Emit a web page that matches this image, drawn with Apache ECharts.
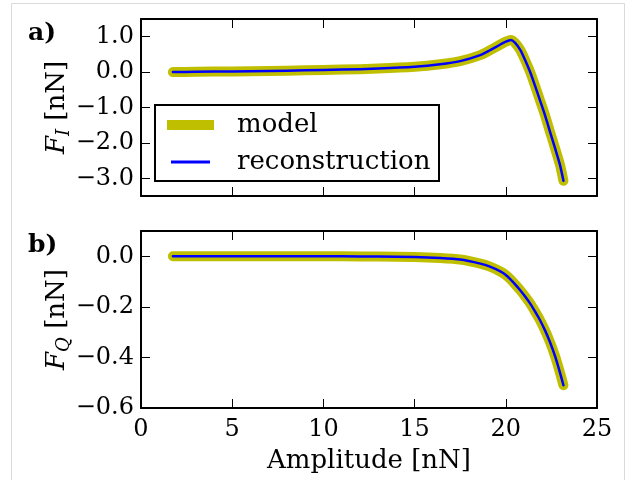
<!DOCTYPE html>
<html>
<head>
<meta charset="utf-8">
<script src="https://cdn.jsdelivr.net/npm/echarts@6/dist/echarts.min.js"></script>
<style>
  html, body { margin: 0; padding: 0; background: #fff; }
  #chart { width: 629px; height: 480px; }
</style>
</head>
<body>
<div id="chart"></div>
<script>
// amplitude [nN] and the two force components
const amplitude = [1.75, 3, 5, 7, 9, 11, 13, 15, 16.4, 17.5, 18.6, 19.1, 19.7, 20.0, 20.27, 20.5, 20.8, 21.05, 21.33, 21.6, 21.87, 22.15, 22.42, 22.7, 22.97, 23.16];
const forceI = [0.0, 0.01, 0.02, 0.03, 0.05, 0.07, 0.10, 0.15, 0.22, 0.31, 0.48, 0.61, 0.78, 0.86, 0.91, 0.83, 0.62, 0.35, 0.01, -0.38, -0.79, -1.22, -1.68, -2.15, -2.62, -3.07];
const forceQ = [0.0, 0.0, 0.0, 0.0, 0.0, 0.0, -0.001, -0.003, -0.007, -0.013, -0.029, -0.04, -0.06, -0.074, -0.092, -0.11, -0.135, -0.158, -0.186, -0.218, -0.252, -0.293, -0.339, -0.395, -0.46, -0.51];
const xTicks = [0, 5, 10, 15, 20, 25];
const yTicksI = [-3, -2, -1, 0, 1];
const yTicksQ = [-0.6, -0.4, -0.2, 0.0];

const FONT = 'DejaVu Serif';
const pairs = (ys) => amplitude.map((x, i) => [x, ys[i]]);
const fmt = (v) => (v < 0 ? '\u2212' : '') + Math.abs(v).toFixed(1);

const chart = echarts.init(document.getElementById('chart'), null, {renderer: 'canvas'});

function xAx(grid, pos, labels, name) {
    return {
        type: 'value', gridIndex: grid, position: pos, min: 0, max: 25,
        axisLine: {show: true, onZero: false, lineStyle: {color: '#000', width: 2}},
        axisTick: {show: true, inside: true, length: 9, customValues: xTicks, lineStyle: {color: '#000', width: 1}},
        axisLabel: {show: labels, customValues: xTicks, color: '#000', fontFamily: FONT, fontSize: 24, margin: 10},
        splitLine: {show: false},
        name: name || '', nameLocation: 'middle', nameGap: 40, nameMoveOverlap: false,
        nameTextStyle: {color: '#000', fontFamily: FONT, fontSize: 26}
    };
}
function yAx(grid, pos, min, max, ticks, labels, name) {
    return {
        type: 'value', gridIndex: grid, position: pos, min: min, max: max,
        axisLine: {show: true, onZero: false, lineStyle: {color: '#000', width: 2}},
        axisTick: {show: true, inside: true, length: 9, customValues: ticks, lineStyle: {color: '#000', width: 1}},
        axisLabel: {show: labels, customValues: ticks, color: '#000', fontFamily: FONT, fontSize: 24, margin: 7, formatter: fmt},
        splitLine: {show: false},
        name: name || '', nameLocation: 'middle', nameGap: 68, nameMoveOverlap: false,
        nameTextStyle: {
            color: '#000', fontFamily: FONT, fontSize: 26,
            rich: {
                f: {fontFamily: FONT, fontSize: 26, fontStyle: 'italic', color: '#000', lineHeight: 32},
                s: {fontFamily: FONT, fontSize: 18, fontStyle: 'italic', color: '#000', verticalAlign: 'bottom', lineHeight: 24},
                n: {fontFamily: FONT, fontSize: 26, color: '#000', lineHeight: 32}
            }
        }
    };
}

const model = {color: '#bfbf00', smooth: 0.2, lineStyle: {color: '#bfbf00', width: 10, cap: 'round', join: 'round'}};
const recon = {color: '#0000ff', smooth: 0.2, lineStyle: {color: '#0000ff', width: 2.5, cap: 'round', join: 'round'}};
const legendText = {color: '#000', fontFamily: FONT, fontSize: 26};

const option = {
    backgroundColor: '#fff',
    animation: false,
    grid: [
        {left: 141, right: 32, top: 19, height: 177},
        {left: 141, right: 32, top: 231, height: 177}
    ],
    xAxis: [
        xAx(0, 'bottom', false), xAx(0, 'top', false),
        xAx(1, 'bottom', true, 'Amplitude [nN]'), xAx(1, 'top', false)
    ],
    yAxis: [
        yAx(0, 'left', -3.5, 1.5, yTicksI, true, '{f|F}{s|I} {n|[nN]}'),
        yAx(0, 'right', -3.5, 1.5, yTicksI, false),
        yAx(1, 'left', -0.6, 0.1, yTicksQ, true, '{f|F}{s|Q} {n|[nN]}'),
        yAx(1, 'right', -0.6, 0.1, yTicksQ, false)
    ],
    legend: [
        {data: ['model'], left: 167, top: 112, padding: 0, icon: 'rect', itemWidth: 47, itemHeight: 10,
         textStyle: Object.assign({padding: [0, 0, 0, 18]}, legendText)},
        {data: ['reconstruction'], left: 171, top: 149, padding: 0, icon: 'rect', itemWidth: 39, itemHeight: 3,
         textStyle: Object.assign({padding: [0, 0, 0, 22]}, legendText)}
    ],
    graphic: [
        {type: 'rect', shape: {x: 11.5, y: 3.5, width: 613, height: 500}, style: {fill: 'none', stroke: '#dadada', lineWidth: 1}, silent: true},
        {type: 'rect', shape: {x: 155, y: 105, width: 284, height: 76}, style: {fill: '#fff', stroke: '#000', lineWidth: 2}, z: 3},
        {type: 'text', left: 28, top: 21, style: {text: 'a)', font: 'bold 25px "DejaVu Serif"', fill: '#000'}},
        {type: 'text', left: 28, top: 233, style: {text: 'b)', font: 'bold 25px "DejaVu Serif"', fill: '#000'}}
    ],
    series: [
        Object.assign({name: 'model', type: 'line', xAxisIndex: 0, yAxisIndex: 0, data: pairs(forceI), showSymbol: false, z: 2}, model),
        Object.assign({name: 'reconstruction', type: 'line', xAxisIndex: 0, yAxisIndex: 0, data: pairs(forceI), showSymbol: false, z: 3}, recon),
        Object.assign({name: 'model', type: 'line', xAxisIndex: 2, yAxisIndex: 2, data: pairs(forceQ), showSymbol: false, z: 2}, model),
        Object.assign({name: 'reconstruction', type: 'line', xAxisIndex: 2, yAxisIndex: 2, data: pairs(forceQ), showSymbol: false, z: 3}, recon)
    ]
};
chart.setOption(option);
</script>
</body>
</html>
